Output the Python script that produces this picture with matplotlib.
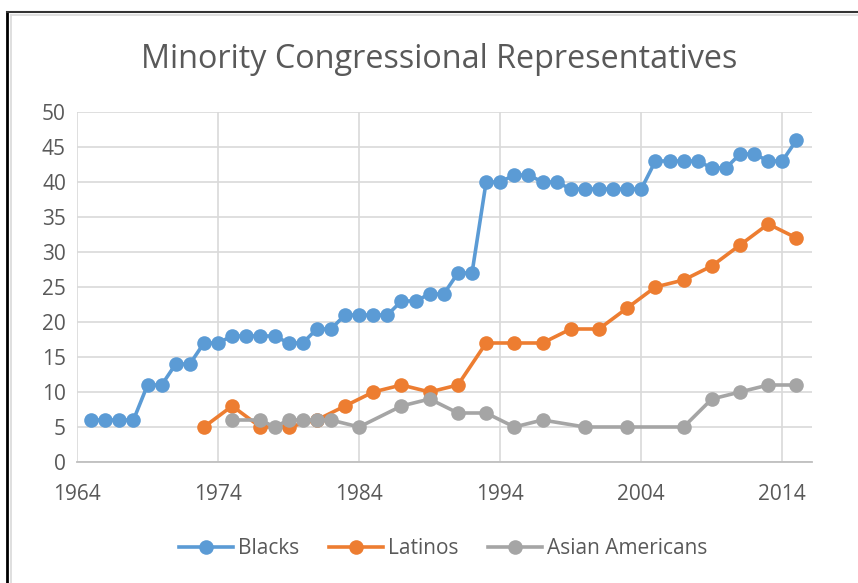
import numpy as np
import matplotlib
matplotlib.use("Agg")
import matplotlib.pyplot as plt
from matplotlib.lines import Line2D

# ============================================================
# DATA
# ============================================================
black_years = list(range(1965, 2016))
black_vals = [6, 6, 6, 6, 11, 11, 14, 14, 17, 17,
              18, 18, 18, 18, 17, 17, 19, 19, 21, 21,
              21, 21, 23, 23, 24, 24, 27, 27, 40, 40,
              41, 41, 40, 40, 39, 39, 39, 39, 39, 39,
              43, 43, 43, 43, 42, 42, 44, 44, 43, 43,
              46]

latino_years = [1973, 1975, 1977, 1979, 1981, 1983, 1985, 1987, 1989, 1991,
                1993, 1995, 1997, 1999, 2001, 2003, 2005, 2007, 2009, 2011,
                2013, 2015]
latino_vals = [5, 8, 5, 5, 6, 8, 10, 11, 10, 11,
               17, 17, 17, 19, 19, 22, 25, 26, 28, 31,
               34, 32]

asian_years = [1975, 1977, 1978, 1979, 1980, 1981, 1982, 1984, 1987, 1989,
               1991, 1993, 1995, 1997, 2000, 2003, 2007, 2009, 2011, 2013,
               2015]
asian_vals = [6, 6, 5, 6, 6, 6, 6, 5, 8, 9,
              7, 7, 5, 6, 5, 5, 5, 9, 10, 11,
              11]

x_ticks = [1964, 1974, 1984, 1994, 2004, 2014]
y_ticks = [0, 5, 10, 15, 20, 25, 30, 35, 40, 45, 50]

# ============================================================
# STYLE
# ============================================================
plt.rcParams["font.family"] = ["Open Sans", "DejaVu Sans"]
TEXT = "#595959"
GRID = "#D9D9D9"

fig = plt.figure(figsize=(8.58, 5.83), dpi=100)
ax = fig.add_axes([77 / 858, (583 - 462) / 583, (812 - 77) / 858, 350 / 583])

series = [
    (black_years, black_vals, "#5B9BD5", "Blacks"),
    (latino_years, latino_vals, "#ED7D31", "Latinos"),
    (asian_years, asian_vals, "#A5A5A5", "Asian Americans"),
]
for xs, ys, col, name in series:
    ax.plot(xs, ys, color=col, lw=2.6, marker="o", ms=10.5,
            markeredgewidth=0, label=name, zorder=3)

ax.set_xlim(1964, 2016.1)
ax.set_ylim(0, 50)
ax.set_xticks(x_ticks)
ax.set_yticks(y_ticks)
ax.grid(True, color=GRID, lw=1.2, zorder=0)
for side in ["top", "right", "left"]:
    ax.spines[side].set_visible(False)
ax.spines["bottom"].set_color("#BFBFBF")
ax.spines["bottom"].set_linewidth(1.3)
ax.tick_params(length=0, labelsize=15, colors=TEXT)
ax.tick_params(axis="x", pad=16)
ax.tick_params(axis="y", pad=8)

fig.text(439 / 858, 1 - 60 / 583, "Minority Congressional Representatives",
         ha="center", va="center", fontsize=23.3, color=TEXT)

ax.legend(loc="upper center", bbox_to_anchor=(0.498, -0.165), ncol=3,
          frameon=False, fontsize=15, labelcolor=TEXT, handlelength=2.6,
          columnspacing=1.4, handletextpad=0.25)

# chart frame (left and top edges visible)
fig.add_artist(Line2D([7 / 858, 7 / 858], [0, 1 - 12 / 583], color="black",
                      lw=2, transform=fig.transFigure))
fig.add_artist(Line2D([7 / 858, 1], [1 - 12 / 583, 1 - 12 / 583], color="#333333",
                      lw=1.5, transform=fig.transFigure))
fig.add_artist(Line2D([11 / 858, 11 / 858], [0, 1 - 15 / 583], color="#D9D9D9",
                      lw=1.2, transform=fig.transFigure))
fig.add_artist(Line2D([11 / 858, 1], [1 - 15 / 583, 1 - 15 / 583], color="#D9D9D9",
                      lw=1.2, transform=fig.transFigure))

fig.savefig("out.png", dpi=100)
